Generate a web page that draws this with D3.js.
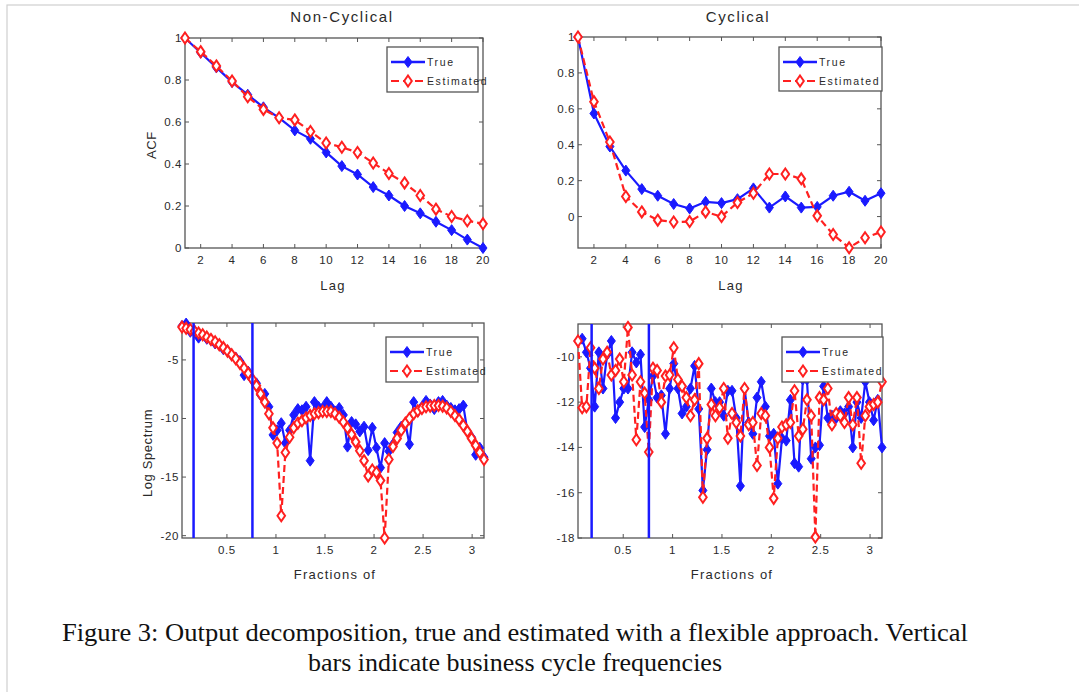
<!DOCTYPE html>
<html><head><meta charset="utf-8">
<script src="https://cdn.jsdelivr.net/npm/d3@7"></script>
<style>
html,body{margin:0;padding:0;background:#fff;}
svg{display:block;}
</style></head>
<body><svg id="c" width="1079" height="692"></svg>
<script>
// ---------- data ----------
const lags = [1,2,3,4,5,6,7,8,9,10,11,12,13,14,15,16,17,18,19,20];
const acfNcTrue = [1.0,0.93,0.86,0.79,0.73,0.67,0.62,0.56,0.52,0.455,0.39,0.35,0.29,0.25,0.20,0.165,0.125,0.085,0.04,0.0];
const acfNcEst  = [1.0,0.935,0.867,0.795,0.72,0.66,0.62,0.61,0.555,0.50,0.48,0.455,0.405,0.355,0.31,0.25,0.185,0.15,0.13,0.115];
const acfCyTrue = [1.0,0.574,0.39,0.256,0.153,0.116,0.07,0.045,0.082,0.075,0.097,0.157,0.05,0.112,0.05,0.054,0.116,0.138,0.088,0.13];
const acfCyEst  = [1.0,0.64,0.415,0.112,0.026,-0.02,-0.03,-0.028,0.026,0.0,0.078,0.13,0.237,0.237,0.21,0.004,-0.1,-0.174,-0.118,-0.086];

const freqs = [0.042,0.084,0.127,0.169,0.211,0.253,0.295,0.337,0.380,0.422,0.464,0.506,0.548,0.590,0.633,0.675,0.717,0.759,0.801,0.843,
  0.886,0.928,0.970,1.012,1.054,1.096,1.139,1.181,1.223,1.265,1.307,1.349,1.392,1.434,1.476,1.518,1.560,1.602,1.645,1.687,
  1.729,1.771,1.813,1.855,1.898,1.940,1.982,2.024,2.066,2.108,2.151,2.193,2.235,2.277,2.319,2.361,2.404,2.446,2.488,2.530,
  2.572,2.614,2.657,2.699,2.741,2.783,2.825,2.867,2.910,2.952,2.994,3.036,3.078,3.121];

const specNcTrue = [-2.1,-1.9,-2.6,-2.5,-3.1,-2.9,-3.2,-3.3,-3.6,-3.7,-4.1,-4.2,-4.6,-4.8,-5.1,-6.3,-6.0,-6.7,-7.0,-8.0,
  -7.9,-9.0,-11.4,-11.0,-10.4,-12.1,-11.0,-9.7,-9.2,-9.3,-9.0,-13.6,-8.6,-9.0,-9.1,-8.6,-9.0,-9.4,-9.1,-9.7,
  -12.4,-10.3,-10.5,-11.1,-10.7,-12.7,-10.8,-12.5,-14.2,-12.1,-12.8,-12.2,-11.2,-10.7,-10.4,-12.2,-8.6,-9.4,-9.0,-8.5,
  -8.8,-9.2,-8.6,-8.5,-8.9,-9.1,-9.3,-9.2,-8.9,-11.1,-11.6,-13.1,-12.5,-13.3];
const specNcEst = [-2.2,-2.3,-2.4,-2.55,-2.7,-2.85,-3.05,-3.25,-3.45,-3.7,-3.95,-4.25,-4.55,-4.9,-5.3,-5.7,-6.15,-6.65,-7.2,-7.9,
  -8.6,-9.6,-10.8,-12.1,-18.3,-12.9,-11.6,-10.8,-10.4,-10.2,-9.95,-9.75,-9.6,-9.5,-9.4,-9.4,-9.4,-9.6,-9.9,-10.3,
  -10.8,-11.35,-12.0,-12.75,-13.6,-14.9,-14.4,-14.6,-15.3,-20.2,-13.5,-12.4,-11.7,-11.0,-10.4,-10.0,-9.6,-9.35,-9.15,-9.0,
  -8.95,-8.9,-8.9,-8.95,-9.1,-9.4,-9.75,-10.1,-10.6,-11.1,-11.7,-12.3,-12.9,-13.5];

const specCyTrue = [-9.3,-9.2,-9.8,-10.5,-12.2,-9.8,-11.4,-9.9,-9.3,-12.7,-12.0,-11.4,-11.4,-9.8,-10.25,-9.9,-13.1,-11.9,-10.85,-11.8,
  -11.7,-13.4,-11.4,-10.3,-11.4,-12.5,-12.2,-11.4,-10.4,-12.3,-15.9,-14.1,-11.4,-12.0,-12.0,-12.6,-11.5,-11.5,-12.7,-15.7,
  -11.4,-12.9,-13.4,-11.8,-11.1,-12.2,-13.5,-13.4,-15.6,-13.6,-13.7,-11.9,-14.7,-14.85,-11.0,-11.0,-14.5,-14.0,-13.9,-11.3,
  -12.7,-12.6,-12.7,-12.4,-12.5,-12.2,-14.0,-12.0,-12.7,-11.1,-12.0,-12.8,-11.9,-14.0];
const specCyEst = [-9.3,-12.25,-12.2,-9.6,-10.5,-11.4,-10.1,-9.8,-10.8,-10.6,-10.1,-11.1,-8.7,-10.8,-13.66,-11.1,-11.6,-14.2,-10.5,-10.6,
  -12.0,-10.85,-10.8,-9.6,-11.0,-11.3,-11.8,-12.6,-11.9,-10.3,-16.2,-13.6,-12.1,-12.6,-12.25,-11.4,-13.6,-12.5,-12.9,-13.5,
  -11.4,-13.0,-12.9,-14.8,-12.5,-12.6,-14.0,-16.25,-13.6,-13.1,-13.0,-12.9,-11.5,-13.5,-13.2,-11.9,-12.6,-17.96,-11.8,-11.9,
  -11.4,-13.0,-12.5,-12.6,-12.9,-11.8,-13.0,-11.8,-14.7,-12.6,-12.2,-12.1,-12.0,-11.1];

const bandNc = [0.16, 0.76];
const bandCy = [0.18, 0.76];

const lagTicks = [2,4,6,8,10,12,14,16,18,20];
const acfTicks = [0,0.2,0.4,0.6,0.8,1];
const freqTicks = [0.5,1,1.5,2,2.5,3];
const specNcTicks = [-20,-15,-10,-5];
const specCyTicks = [-18,-16,-14,-12,-10];
const seriesNames = ["True","Estimated"];
const captionLines = ["Figure 3: Output decomposition, true and estimated with a flexible approach. Vertical",
                      "bars indicate business cycle frequencies"];

// ---------- drawing ----------
const SANS = "'Liberation Sans', Arial, sans-serif";
const SERIF = "'Liberation Serif', 'DejaVu Serif', serif";
const svg = d3.select("#c").style("font-family", SANS);
svg.append("rect").attr("width",1079).attr("height",692).attr("fill","#fff");
svg.append("rect").attr("x",7).attr("y",5).attr("width",1090).attr("height",700)
  .attr("fill","none").attr("stroke","#cfcfcf").attr("stroke-width",1.2);

const BLUE = "#1a1aff", RED = "#ff2020", AX = "#555", TXT = "#2a2a2a";
const diamond = (w,h) => `M0,${-h}L${w},0L0,${h}L${-w},0Z`;

function panel(o){
  const g = svg.append("g");
  const x = d3.scaleLinear().domain(o.xd).range([o.l,o.r]);
  const y = d3.scaleLinear().domain(o.yd).range([o.b,o.t]);
  g.append("rect").attr("x",o.l).attr("y",o.t).attr("width",o.r-o.l).attr("height",o.b-o.t)
    .attr("fill","#fff").attr("stroke",AX).attr("stroke-width",1.3);
  const clip = "clip"+Math.round(o.l)+Math.round(o.t);
  svg.append("clipPath").attr("id",clip).append("rect")
    .attr("x",o.l-6).attr("y",o.t-8).attr("width",o.r-o.l+12).attr("height",o.b-o.t+16);
  const tl = 4;
  o.xt.forEach(v=>{
    g.append("line").attr("x1",x(v)).attr("x2",x(v)).attr("y1",o.b).attr("y2",o.b-tl).attr("stroke",AX);
    g.append("line").attr("x1",x(v)).attr("x2",x(v)).attr("y1",o.t).attr("y2",o.t+tl).attr("stroke",AX);
    g.append("text").attr("x",x(v)).attr("y",o.b+16).attr("text-anchor","middle")
      .attr("font-size",11.5).attr("fill",TXT).attr("letter-spacing",0.6).text(o.xf(v));
  });
  o.yt.forEach(v=>{
    g.append("line").attr("x1",o.l).attr("x2",o.l+tl).attr("y1",y(v)).attr("y2",y(v)).attr("stroke",AX);
    g.append("line").attr("x1",o.r).attr("x2",o.r-tl).attr("y1",y(v)).attr("y2",y(v)).attr("stroke",AX);
    g.append("text").attr("x",o.l-3).attr("y",y(v)+4).attr("text-anchor","end")
      .attr("font-size",11.5).attr("fill",TXT).attr("letter-spacing",0.6).text(o.yf(v));
  });
  const pg = g.append("g").attr("clip-path",`url(#${clip})`);
  const line = d3.line().x(d=>x(d[0])).y(d=>y(d[1]));
  const tr = o.xs.map((v,i)=>[v,o.s1[i]]);
  const es = o.xs.map((v,i)=>[v,o.s2[i]]);
  pg.append("path").attr("d",line(tr)).attr("fill","none").attr("stroke",BLUE).attr("stroke-width",2.2);
  pg.selectAll(null).data(tr).enter().append("path")
    .attr("d",diamond(4,5.5)).attr("transform",d=>`translate(${x(d[0])},${y(d[1])})`)
    .attr("fill",BLUE).attr("stroke",BLUE).attr("stroke-width",1);
  pg.append("path").attr("d",line(es)).attr("fill","none").attr("stroke",RED).attr("stroke-width",2.2)
    .attr("stroke-dasharray","7,4");
  pg.selectAll(null).data(es).enter().append("path")
    .attr("d",diamond(3.8,5.5)).attr("transform",d=>`translate(${x(d[0])},${y(d[1])})`)
    .attr("fill","#fff").attr("stroke",RED).attr("stroke-width",2);
  if(o.bars) o.bars.forEach(v=>{
    g.append("line").attr("x1",x(v)).attr("x2",x(v)).attr("y1",o.t).attr("y2",o.b)
      .attr("stroke",BLUE).attr("stroke-width",2.5);
  });
  const L = o.leg;
  g.append("rect").attr("x",L.x).attr("y",L.y).attr("width",L.w).attr("height",L.h)
    .attr("fill","#fff").attr("stroke",AX).attr("stroke-width",1.3);
  const rows = [L.y+15, L.y+34];
  const lx1 = L.x+4, lx2 = L.x+38, lm = (lx1+lx2)/2;
  g.append("line").attr("x1",lx1).attr("x2",lx2).attr("y1",rows[0]).attr("y2",rows[0]).attr("stroke",BLUE).attr("stroke-width",2.6);
  g.append("path").attr("d",diamond(4,5.5)).attr("transform",`translate(${lm},${rows[0]})`).attr("fill",BLUE).attr("stroke",BLUE);
  g.append("line").attr("x1",lx1).attr("x2",lx2).attr("y1",rows[1]).attr("y2",rows[1]).attr("stroke",RED).attr("stroke-width",2.2)
    .attr("stroke-dasharray","8,4");
  g.append("path").attr("d",diamond(3.8,5.5)).attr("transform",`translate(${lm},${rows[1]})`).attr("fill","#fff").attr("stroke",RED).attr("stroke-width",2);
  seriesNames.forEach((n,i)=>{
    g.append("text").attr("x",lx2+2).attr("y",rows[i]+4).attr("font-size",10.5).attr("fill",TXT)
      .attr("letter-spacing",1.6).text(n);
  });
  if(o.title) g.append("text").attr("x",o.tx).attr("y",22).attr("text-anchor","middle")
      .attr("font-size",15).attr("letter-spacing",1.6).attr("fill",TXT).text(o.title);
  g.append("text").attr("x",o.xlx).attr("y",o.xly).attr("text-anchor","middle")
      .attr("font-size",13).attr("letter-spacing",1.2).attr("fill",TXT).text(o.xl);
  if(o.yl) g.append("text").attr("transform",`translate(${o.ylx},${o.yly}) rotate(-90)`).attr("text-anchor","middle")
      .attr("font-size",13).attr("letter-spacing",0.6).attr("fill",TXT).text(o.yl);
}

const fmtAcf = v => String(v);
panel({l:185,r:483,t:38,b:248,xd:[1,20],yd:[0,1],xt:lagTicks,yt:acfTicks,xf:String,yf:fmtAcf,
  xs:lags,s1:acfNcTrue,s2:acfNcEst,leg:{x:387,y:47,w:91,h:45},
  title:"Non-Cyclical",tx:342,xl:"Lag",xlx:333,xly:290,yl:"ACF",ylx:156,yly:145});
panel({l:578,r:881,t:37,b:248,xd:[1,20],yd:[-0.175,1],xt:lagTicks,yt:acfTicks,xf:String,yf:fmtAcf,
  xs:lags,s1:acfCyTrue,s2:acfCyEst,leg:{x:779,y:47,w:103,h:44},
  title:"Cyclical",tx:738,xl:"Lag",xlx:731,xly:290});
panel({l:182,r:484,t:323,b:538,xd:[0.042,3.121],yd:[-20.2,-1.85],xt:freqTicks,yt:specNcTicks,xf:String,yf:String,
  xs:freqs,s1:specNcTrue,s2:specNcEst,bars:bandNc,leg:{x:386,y:337,w:92,h:45},
  xl:"Fractions of",xlx:335,xly:579,yl:"Log Spectrum",ylx:152,yly:453});
panel({l:578,r:882,t:324,b:538,xd:[0.042,3.121],yd:[-18,-8.55],xt:freqTicks,yt:specCyTicks,xf:String,yf:String,
  xs:freqs,s1:specCyTrue,s2:specCyEst,bars:bandCy,leg:{x:782,y:337,w:101,h:45},
  xl:"Fractions of",xlx:732,xly:579});

svg.append("text").attr("x",62).attr("y",641).style("font-family",SERIF)
  .attr("font-size",25).attr("fill","#111").attr("textLength",906).attr("lengthAdjust","spacingAndGlyphs")
  .text(captionLines[0]);
svg.append("text").attr("x",308).attr("y",671).style("font-family",SERIF)
  .attr("font-size",25).attr("fill","#111").attr("textLength",414).attr("lengthAdjust","spacingAndGlyphs")
  .text(captionLines[1]);
</script></body></html>
